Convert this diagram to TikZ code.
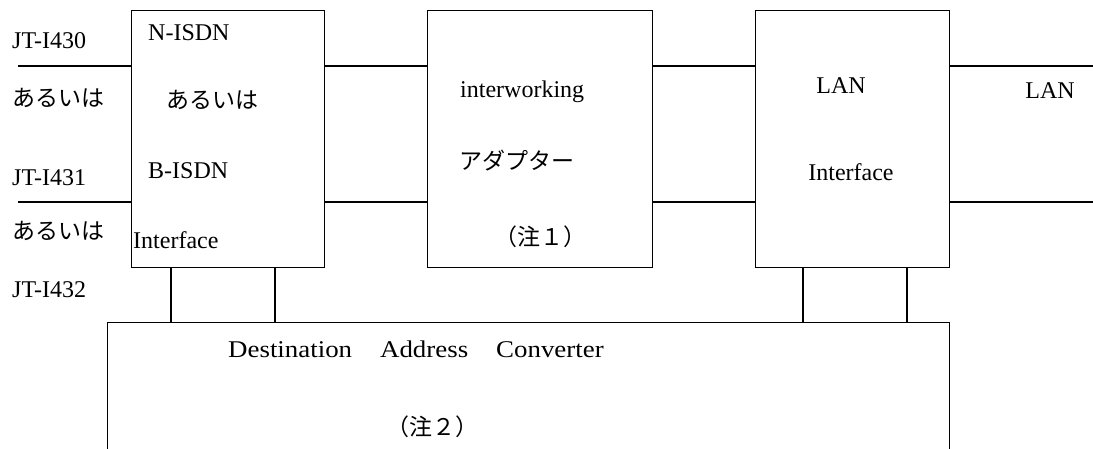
\documentclass[tikz,border=0pt]{standalone}
\usepackage{fontspec}
\setmainfont{Liberation Serif}
\newfontfamily\jp{Noto Sans CJK JP}
\begin{document}
\begin{tikzpicture}[x=1pt,y=-1pt,
  box/.style={draw, line width=1.2pt, inner sep=0pt, anchor=north west},
  lbl/.style={inner sep=0pt, font=\fontsize{24}{28}\selectfont},
  jlbl/.style={inner sep=0pt, font=\fontsize{23}{28}\selectfont\jp},
  wire/.style={line width=1.2pt}]
\useasboundingbox (0,0) rectangle (1093,448);
\clip (0,0) rectangle (1093,448);
% boxes
\node[box, minimum width=193pt, minimum height=257pt] (isdn) at (131,10) {};
\node[box, minimum width=225pt, minimum height=257pt] (iwa) at (427,10) {};
\node[box, minimum width=194pt, minimum height=257pt] (lanif) at (755,10) {};
\node[box, minimum width=842pt, minimum height=150pt] (dac) at (107,322) {};
% free ends
\coordinate (l1) at (18,66);
\coordinate (l2) at (18,202);
\coordinate (r1) at (1093,66);
\coordinate (r2) at (1093,202);
% wires
\draw[wire] (l1) -- (l1 -| isdn.west);
\draw[wire] (l2) -- (l2 -| isdn.west);
\draw[wire] ([yshift=-56pt]isdn.north east) -- ([yshift=-56pt]iwa.north west);
\draw[wire] ([yshift=-192pt]isdn.north east) -- ([yshift=-192pt]iwa.north west);
\draw[wire] ([yshift=-56pt]iwa.north east) -- ([yshift=-56pt]lanif.north west);
\draw[wire] ([yshift=-192pt]iwa.north east) -- ([yshift=-192pt]lanif.north west);
\draw[wire] (r1 -| lanif.east) -- (r1);
\draw[wire] (r2 -| lanif.east) -- (r2);
\draw[wire] ([xshift=40pt]isdn.south west) -- ([xshift=40pt]isdn.south west |- dac.north);
\draw[wire] ([xshift=144pt]isdn.south west) -- ([xshift=144pt]isdn.south west |- dac.north);
\draw[wire] ([xshift=48pt]lanif.south west) -- ([xshift=48pt]lanif.south west |- dac.north);
\draw[wire] ([xshift=152pt]lanif.south west) -- ([xshift=152pt]lanif.south west |- dac.north);
% labels
\node[lbl, anchor=base west] (t430) at (12,48) {JT-I430};
\node[jlbl, anchor=west] (or1) at (12,98) {あるいは};
\node[lbl, anchor=base west] (t431) at (12,185) {JT-I431};
\node[jlbl, anchor=west] (or2) at (12,231) {あるいは};
\node[lbl, anchor=base west] (t432) at (12,297) {JT-I432};
\node[lbl, anchor=base west] (nisdn) at (148,40) {N-ISDN};
\node[jlbl, anchor=west] (or3) at (166,100) {あるいは};
\node[lbl, anchor=base west] (bisdn) at (148,178) {B-ISDN};
\node[lbl, anchor=base west] (if1) at (133,248) {Interface};
\node[lbl, anchor=base west] (iw) at (460,97) {interworking};
\node[jlbl, anchor=west] (adp) at (459,161) {アダプター};
\node[jlbl, anchor=center] (n1) at (540,237) {（注１）};
\node[lbl, anchor=base] (lan1) at (841,93) {LAN};
\node[lbl, anchor=base] (if3) at (851,180) {Interface};
\node[lbl, anchor=base] (lan2) at (1050,98) {LAN};
\node[lbl, anchor=base west] (dest) at (228,357) {\scalebox{1.12}[1]{Destination\hspace{25pt}Address\hspace{25pt}Converter}};
\node[jlbl, anchor=center] (n2) at (432,427) {（注２）};
\end{tikzpicture}
\end{document}
